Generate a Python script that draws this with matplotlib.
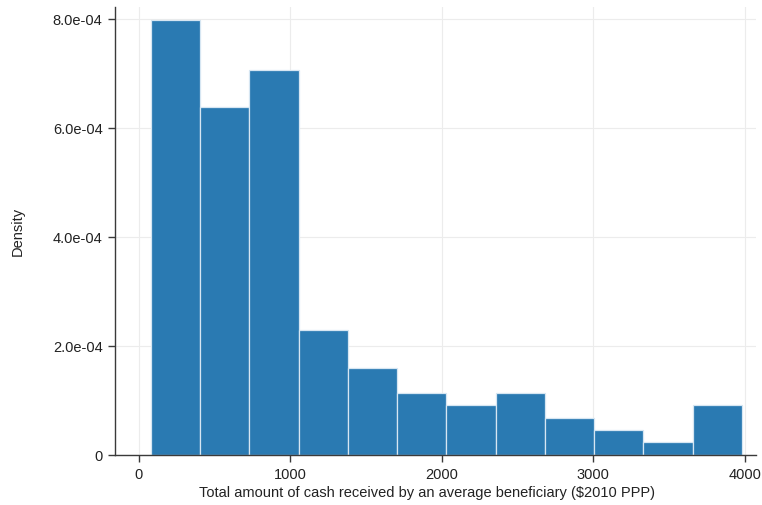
import numpy as np
import matplotlib
matplotlib.use("Agg")
import matplotlib.pyplot as plt
from matplotlib.ticker import FuncFormatter

plt.rcParams['font.family'] = ['Liberation Sans', 'DejaVu Sans']

# Histogram bins (12 equal bins)
bin_start = 79
bin_width = 325.1
density = [7.98e-4, 6.38e-4, 7.06e-4, 2.29e-4, 1.60e-4, 1.14e-4,
           0.91e-4, 1.14e-4, 0.68e-4, 0.46e-4, 0.23e-4, 0.91e-4]

x_ticks = [0, 1000, 2000, 3000, 4000]
y_ticks = [0, 2e-4, 4e-4, 6e-4, 8e-4]

edges = bin_start + bin_width * np.arange(len(density) + 1)

fig = plt.figure(figsize=(7.62, 5.05), dpi=100)
ax = fig.add_axes([0.151, 0.099, 0.841, 0.887])

ax.bar(edges[:-1], density, width=bin_width, align='edge',
       color='#2a7ab2', edgecolor='#d6e6f2', linewidth=0.9, zorder=2)

ax.set_xlim(-158, 4073)
ax.set_ylim(0, 8.22e-4)
ax.set_xticks(x_ticks)
ax.set_yticks(y_ticks)
ax.yaxis.set_major_formatter(FuncFormatter(lambda v, p: '0' if v == 0 else '%.1e' % v))

ax.grid(True, color='#ececec', linewidth=0.8, zorder=0)
for s in ['top', 'right']:
    ax.spines[s].set_visible(False)
for s in ['left', 'bottom']:
    ax.spines[s].set_color('#3a3a3a')
    ax.spines[s].set_linewidth(1.0)

ax.tick_params(axis='both', direction='out', length=5, width=1.0,
               color='#3a3a3a', labelsize=10.5, labelcolor='#222222', pad=4)

ax.set_xlabel('Total amount of cash received by an average beneficiary ($2010 PPP)',
              fontsize=10.5, color='#222222', labelpad=3)
ax.xaxis.label.set_x(0.486)
ax.set_ylabel('Density', fontsize=10.5, color='#222222', labelpad=20)

fig.savefig('out.png', dpi=100)
